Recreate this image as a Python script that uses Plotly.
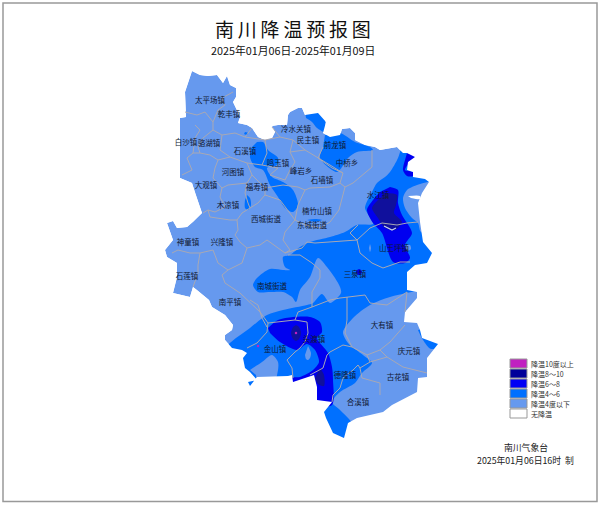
import plotly.graph_objects as go

LIGHT = "#6699EE"
MID = "#0070FF"
DARK = "#0000F0"
NAVY = "#10109C"
PURPLE = "#C020C0"
BORDER = "#A8A8B4"

OUTLINE = [(192,71),(200,75),(208,76),(217,75),(223,83),(227,76),(230,85),(236,88),(236,97),(233,102),(237,110),(240,117),(238,123),(247,125),(252,128),(258,137),(265,140),(272,138),(275,132),(272,126),(278,125),(287,125),(288,115),(290,112),(298,108),(302,108),(305,115),(318,113),(326,122),(323,133),(330,137),(340,135),(342,129),(350,128),(355,133),(355,140),(365,145),(375,147),(380,150),(397,147),(403,153),(407,153),(415,157),(408,162),(407,170),(413,172),(413,177),(425,179),(429,182),(422,193),(418,203),(420,222),(423,242),(432,253),(427,263),(415,265),(407,272),(407,280),(407,290),(417,292),(417,298),(405,312),(404,322),(417,323),(420,330),(422,338),(438,344),(427,358),(427,377),(418,378),(417,392),(392,405),(383,412),(357,418),(348,423),(344,438),(333,433),(326,418),(324,412),(332,402),(317,400),(317,387),(314,375),(308,377),(293,382),(292,375),(288,376),(257,377),(250,386),(248,382),(257,380),(250,372),(245,368),(243,358),(247,353),(242,350),(232,348),(225,340),(225,335),(232,330),(233,325),(225,315),(212,307),(209,300),(197,290),(193,287),(190,297),(182,295),(173,293),(177,277),(177,263),(167,257),(165,250),(173,240),(167,223),(173,221),(177,228),(187,227),(193,222),(202,213),(195,193),(192,183),(180,178),(180,118),(186,117),(185,92),(192,71)]

MID_MAIN = [(402,145),(398,158),(390,172),(385,177),(377,183),(372,192),(365,208),(370,217),(373,224),(357,225),(345,232),(330,237),(310,242),(300,247),(290,255),(283,257),(285,267),(290,270),(283,270),(270,269),(257,278),(253,285),(258,292),(270,292),(283,292),(292,297),(296,302),(300,290),(310,277),(318,258),(327,267),(335,278),(340,287),(341,293),(330,303),(322,294),(313,303),(307,305),(283,310),(267,315),(250,328),(228,345),(220,360),(240,400),(340,445),(445,445),(445,140)]
LIGHT_EAST = [(417,291),(390,297),(370,305),(353,318),(343,332),(348,343),(363,355),(372,363),(362,373),(355,383),(340,392),(332,402),(340,410),(352,423),(360,445),(445,445),(445,344),(432,290)]
LIGHT_NE = [(432,181),(417,185),(407,190),(403,198),(405,208),(412,218),(418,223),(421,232),(440,232),(440,181)]
LIGHT_SW = [(250,370),(262,362),(272,355),(278,362),(278,370),(274,382),(258,382),(256,375)]
MID_SE = [(418,330),(423,340),(431,349),(445,344),(425,328)]
MID_A = [(257,142),(263,142),(268,150),(278,158),(277,165),(267,168),(272,177),(283,182),(293,190),(298,205),(293,212),(285,208),(278,197),(270,185),(263,170),(255,167),(250,157),(252,147)]
MID_B = [(247,195),(250,198),(251,205),(248,210),(245,208),(245,200)]
MID_C = [(245,132),(248,133),(247,135),(244,134)]
MID_D = [(305,110),(320,110),(325,120),(325,132),(317,128),(312,122),(306,118)]
MID_E = [(325,135),(340,133),(355,142),(370,147),(373,150),(357,152),(348,158),(337,172),(320,158),(323,147)]
MID_F = [(307,220),(315,219),(322,220),(315,222)]
LIGHT_SPOT_1 = [(370,244),(371,248),(370,252),(369,248)]
LIGHT_SPOT_2 = [(406,245),(410,245),(411,249),(407,251),(405,248)]
WHITE_SLIVER = [(408,196),(420,196),(420,199),(411,198)]

DARK_EAST = [(390,187),(398,190),(398,203),(402,215),(412,233),(405,245),(410,258),(405,263),(393,262),(382,233),(373,223),(367,210),(373,200),(380,192)]
DARK_NE = [(407,153),(415,157),(409,163),(405,170),(413,172),(413,176),(407,176),(403,170),(405,160)]
DARK_SOUTH = [(268,328),(278,320),(293,317),(310,317),(320,322),(322,332),(317,338),(328,353),(332,367),(333,380),(332,405),(312,405),(312,385),(293,388),(292,378),(300,377),(313,370),(319,362),(315,350),(307,344),(297,350),(280,342),(270,333)]
DARK_DOT = [(359,269),(361,270),(362,272),(361,274),(359,275),(357,274),(356,272),(357,270)]
LIGHT_DROP = [(308,346),(311,353),(310,358),(308,360),(306,359),(305,355)]
NAVY_EAST = [(385,193),(397,195),(396,205),(394,213),(402,222),(395,230),(385,228),(378,218),(372,208),(378,200)]
NAVY_OVAL = [(296,325),(299,327),(301,333),(299,339),(296,341),(293,339),(291,333),(293,327)]
NAVY_SOUTH = [(320,368),(324,375),(324,386),(318,384),(315,378)]

FILLS = [
    ("base", OUTLINE, LIGHT), ("mid_main", MID_MAIN, MID), ("light_east", LIGHT_EAST, LIGHT),
    ("light_ne", LIGHT_NE, LIGHT), ("light_sw", LIGHT_SW, LIGHT), ("mid_se", MID_SE, MID),
    ("mid_a", MID_A, MID), ("mid_b", MID_B, MID), ("mid_c", MID_C, MID), ("mid_d", MID_D, MID),
    ("mid_e", MID_E, MID), ("mid_f", MID_F, MID), ("spot1", LIGHT_SPOT_1, LIGHT), ("spot2", LIGHT_SPOT_2, LIGHT),
    ("sliver", WHITE_SLIVER, "#FFFFFF"), ("dark_e", DARK_EAST, DARK), ("dark_ne", DARK_NE, DARK),
    ("dark_s", DARK_SOUTH, DARK), ("dark_dot", DARK_DOT, DARK), ("drop", LIGHT_DROP, LIGHT),
    ("navy_e", NAVY_EAST, NAVY), ("navy_o", NAVY_OVAL, NAVY), ("navy_s", NAVY_SOUTH, NAVY),
]

BORDERS = [
    [(252,128),(245,137),(235,133),(222,135),(213,130),(213,122),(218,110),(225,105),(222,98),(233,92)],
    [(185,112),(197,115),(205,112),(213,122)],
    [(195,125),(200,130),(195,138),(193,153),(187,158),(192,170),(182,175)],
    [(213,130),(203,138),(198,147),(200,153),(193,153)],
    [(222,135),(220,150),(230,157),(218,160),(210,155),(200,153)],
    [(218,160),(215,168),(213,178),(222,188),(228,185),(247,183),(252,175),(247,163),(230,157)],
    [(222,188),(220,197),(225,207),(215,212),(208,210),(203,213)],
    [(208,210),(210,217),(230,220),(237,220),(242,213),(250,208),(258,203),(265,195),(265,188),(252,175)],
    [(247,183),(245,193),(248,203),(250,208)],
    [(245,137),(265,140),(267,153),(262,165),(247,163)],
    [(262,165),(278,168),(270,175),(285,180),(290,170),(295,162),(290,152),(293,140),(280,137),(272,127)],
    [(265,140),(280,137)],
    [(265,188),(283,185),(298,187),(305,190),(310,188),(330,187),(340,183),(343,173),(330,165),(318,158),(305,150),(293,140)],
    [(290,152),(305,150)],
    [(323,147),(318,158),(332,168),(343,173)],
    [(372,150),(372,167),(353,183),(345,187),(340,183)],
    [(345,187),(339,210),(330,222),(320,228),(305,225),(295,220),(298,205),(305,190)],
    [(265,195),(280,200),(295,220),(285,232),(283,240),(290,250),(285,253)],
    [(237,220),(238,230),(235,235),(240,242),(247,248)],
    [(172,253),(178,250),(190,253),(200,253),(198,265),(198,273),(193,287)],
    [(200,253),(213,250),(218,263),(228,270),(222,275),(225,283),(240,293),(250,302),(260,312),(268,323),(267,332),(257,343),(247,348)],
    [(228,270),(242,263),(247,248),(260,245),(267,240),(285,253),(302,248),(307,242),(315,243),(333,242),(357,240)],
    [(358,225),(350,233),(357,240),(370,228),(382,223),(397,225),(407,223),(418,222)],
    [(357,240),(360,253),(372,263),(383,268),(400,262),(410,262)],
    [(288,255),(300,255),(312,263),(320,270),(320,278),(312,292),(312,307),(298,312),(295,320),(307,322),(308,333),(305,342),(300,348),(295,352),(287,360),(292,368),(293,378)],
    [(312,307),(330,300),(340,298),(347,297),(365,295),(370,303),(387,305),(407,292)],
    [(347,297),(347,320),(345,333),(352,347),(367,355),(380,350),(390,342),(405,325)],
    [(367,355),(370,362),(387,357),(403,367),(427,373)],
    [(380,350),(387,357)],
    [(370,362),(360,368),(358,365),(353,370),(343,378),(340,388),(333,395),(332,402)],
    [(360,368),(362,378),(380,383),(380,395)],
    [(352,347),(343,345),(330,352),(327,355),(323,368),(310,375)],
    [(250,300),(258,305),(262,318),(267,327)],
    [(268,323),(277,322),(295,320)],
    [(405,312),(407,292)],
]
RIVER = [(384,226),(392,230),(396,228)]

TOWNS = ["太平场镇","乾丰镇","白沙镇","骆湖镇","石溪镇","鸣玉镇","河图镇","大观镇","福寿镇","木凉镇","神童镇","兴隆镇","西城街道","冷水关镇","民主镇","前龙镇","中桥乡","峰岩乡","石墙镇","楠竹山镇","东城街道","水江镇","山王坪镇","三泉镇","石莲镇","南平镇","南城街道","金山镇","头渡镇","大有镇","庆元镇","古花镇","德隆镇","合溪镇"]
TOWN_X = [210,229,186,209,245,278,233,206,257,228,188,222,266,296,308,335,347,301,322,317,312,378,394,355,187,230,272,275,314,382,409,398,345,358]
TOWN_Y = [101,115,143,144,152,164,173,186,188,206,243,243,220,130,141,146,164,172,181,212,226,196,249,275,277,303,287,350,340,326,352,378,376,403]

LEGEND_LABELS = ["降温10度以上","降温8～10","降温6～8","降温4～6","降温4度以下","无降温"]
LEGEND_COLORS = [PURPLE,"#00009A","#0000F5",MID,LIGHT,"#FFFFFF"]
SPECKS_X = [296,258]
SPECKS_Y = [333,346]

FONT = "Noto Sans CJK SC"
THIN = "\u2009"
fig = go.Figure()

def poly(points, color, smooth=True):
    ln = dict(width=0, color=color)
    if smooth:
        ln.update(shape="spline", smoothing=0.8)
    fig.add_trace(go.Scatter(x=[p[0] for p in points], y=[p[1] for p in points], mode="lines",
                             fill="toself", fillcolor=color, line=ln, hoverinfo="skip", showlegend=False))

def line(points, color, width):
    fig.add_trace(go.Scatter(x=[p[0] for p in points], y=[p[1] for p in points], mode="lines",
                             line=dict(width=width, color=color), hoverinfo="skip", showlegend=False))

for name, pts, col in FILLS:
    poly(pts, col, smooth=name != "base")

# everything outside the county outline is masked back to white (outline reversed so it is a hole)
corners = [(0,0),(600,0),(600,505),(0,505),(0,0)]
poly(corners + OUTLINE[::-1] + [(0,0)], "#FFFFFF", smooth=False)

for b in BORDERS:
    line(b, BORDER, 1.0)
line(RIVER, "#C8D0F0", 1.2)

fig.add_trace(go.Scatter(x=SPECKS_X, y=SPECKS_Y, mode="markers", marker=dict(size=2.5, color=PURPLE),
                         hoverinfo="skip", showlegend=False))
fig.add_trace(go.Scatter(x=TOWN_X, y=TOWN_Y, mode="text", text=TOWNS, textposition="middle center",
                         textfont=dict(family=FONT, size=7.5, color="#101830"), hoverinfo="skip", showlegend=False))

for i, (lab, col) in enumerate(zip(LEGEND_LABELS, LEGEND_COLORS)):
    y0 = 359 + i * 10
    fig.add_trace(go.Scatter(x=[510,527,527,510,510], y=[y0,y0,y0+9,y0+9,y0], mode="lines", fill="toself",
                             fillcolor=col, line=dict(width=1, color="#999999"), hoverinfo="skip", showlegend=False))
    fig.add_annotation(x=528.5, y=y0+4.5, text=lab, showarrow=False, xanchor="left", yanchor="middle",
                       font=dict(family=FONT, size=7, color="#333333"))

fig.add_annotation(x=293, y=28, text=THIN.join("南川降温预报图"), showarrow=False,
                   font=dict(family=FONT, size=19, color="#111111"))
fig.add_annotation(x=293, y=50, text="2025年01月06日-2025年01月09日", showarrow=False,
                   font=dict(family=FONT, size=10.8, color="#111111"))
fig.add_annotation(x=525.5, y=447.5, text="南川气象台", showarrow=False,
                   font=dict(family=FONT, size=8.8, color="#222222"))
fig.add_annotation(x=525.5, y=460.5, text="2025年01月06日16时  制", showarrow=False,
                   font=dict(family=FONT, size=8.8, color="#222222"))

fig.add_shape(type="rect", xref="x", yref="y", x0=3, y0=3, x1=597, y1=501.5, line=dict(color="#999999", width=1.5))

fig.update_layout(width=600, height=505, margin=dict(l=0, r=0, t=0, b=0), paper_bgcolor="white", plot_bgcolor="white",
                  xaxis=dict(range=[0,600], visible=False, fixedrange=True),
                  yaxis=dict(range=[505,0], visible=False, fixedrange=True), showlegend=False)
fig.write_html("out.html", config={"displayModeBar": False}, post_script="document.body.style.margin='0';")
